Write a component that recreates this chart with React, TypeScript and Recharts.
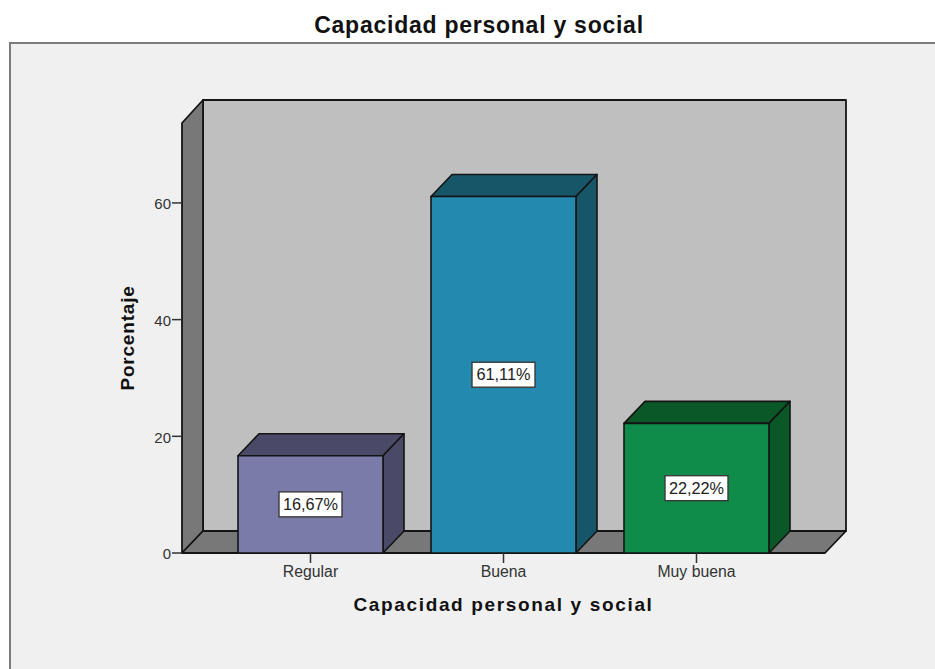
import { BarChart, Bar, XAxis, YAxis, LabelList, usePlotArea } from 'recharts';

const categories = ['Regular', 'Buena', 'Muy buena'];
const percentages = [16.67, 61.11, 22.22];
const yTicks = [0, 20, 40, 60];
const frontColors = ['#7b7ba9', '#2489ae', '#108c4a'];
const shadeColors = ['#4a4a68', '#175669', '#0a5727'];

const data = categories.map((name, i) => ({ name, value: percentages[i] }));

// oblique depth of the 3D box
const DX = 21;
const DY = 22;
const EDGE = '#141414';
const sans = '"Liberation Sans", Arial, sans-serif';

const formatPct = (v: number) => `${v.toFixed(2).replace('.', ',')}%`;

// Back wall, side wall and floor behind the bars
function Walls() {
  const plot = usePlotArea();
  if (!plot) return null;
  const { x, y, width, height } = plot;
  const b = y + height;
  const r = x + width;
  return (
    <g stroke={EDGE} strokeWidth={1.8} strokeLinejoin="round">
      <rect x={x + DX} y={y - DY - 1} width={width} height={height + 1} fill="#bfbfbf" />
      <path d={`M${x},${y} L${x + DX},${y - DY - 1} L${x + DX},${b - DY} L${x},${b} Z`} fill="#787878" />
      <path d={`M${x},${b} L${r},${b} L${r + DX},${b - DY} L${x + DX},${b - DY} Z`} fill="#787878" />
    </g>
  );
}

function Box3D(props: any) {
  const { x, y, width, height, index } = props;
  const front = frontColors[index];
  const shade = shadeColors[index];
  const r = x + width;
  const b = y + height;
  return (
    <g stroke={EDGE} strokeWidth={1.6} strokeLinejoin="round">
      <path d={`M${x},${y} L${x + DX},${y - DY} L${r + DX},${y - DY} L${r},${y} Z`} fill={shade} />
      <path d={`M${r},${y} L${r + DX},${y - DY} L${r + DX},${b - DY} L${r},${b} Z`} fill={shade} />
      <rect x={x} y={y} width={width} height={height} fill={front} />
    </g>
  );
}

function ValueBox(props: any) {
  const { x, y, width, height, value } = props;
  const cx = x + width / 2 + 0.5;
  const cy = y + height / 2;
  return (
    <g>
      <rect x={cx - 32} y={cy - 12.5} width={63} height={25} fill="#ffffff" stroke="#3a3a3a" strokeWidth={1.4} />
      <text x={cx - 0.5} y={cy + 5.5} textAnchor="middle" fontFamily={sans} fontSize={16.3} fill="#222222">
        {formatPct(value)}
      </text>
    </g>
  );
}

export default function App() {
  return (
    <div style={{ position: 'absolute', left: 0, top: 0, width: 935, height: 669, overflow: 'hidden', background: '#ffffff' }}>
      <div
        style={{
          position: 'absolute',
          left: 9,
          top: 41.5,
          width: 960,
          height: 660,
          background: '#f0f0f0',
          border: '2px solid #7c7c7c',
          boxSizing: 'border-box',
        }}
      />
      <div
        style={{
          position: 'absolute',
          left: 0,
          top: 12,
          width: 958,
          textAlign: 'center',
          fontFamily: sans,
          fontWeight: 700,
          fontSize: 23,
          letterSpacing: 0.75,
          color: '#111111',
        }}
      >
        Capacidad personal y social
      </div>
      <div style={{ position: 'absolute', left: 0, top: 0 }}>
        <BarChart
          width={935}
          height={669}
          data={data}
          margin={{ top: 123, right: 110, bottom: 76, left: 122 }}
          barSize={145}
        >
          <Walls />
          <XAxis
            dataKey="name"
            height={40}
            padding={{ left: 32, right: 32 }}
            axisLine={false}
            tickSize={10}
            tickMargin={3}
            tickLine={{ stroke: '#333333', strokeWidth: 1.5 }}
            tick={{ fontSize: 15.8, fontFamily: sans, fill: '#333333' }}
          />
          <YAxis
            width={60}
            domain={[0, 73.7]}
            ticks={yTicks}
            axisLine={false}
            tickSize={10}
            tickMargin={1}
            tickLine={{ stroke: '#333333', strokeWidth: 1.5 }}
            tick={{ fontSize: 15, fontFamily: sans, fill: '#333333', dy: 1 }}
            label={{
              value: 'Porcentaje',
              angle: -90,
              position: 'insideLeft',
              style: { fontFamily: sans, fontWeight: 700, fontSize: 19, letterSpacing: 0.8, fill: '#111111', textAnchor: 'middle' },
            }}
          />
          <Bar dataKey="value" isAnimationActive={false} shape={Box3D}>
            <LabelList dataKey="value" content={ValueBox} />
          </Bar>
        </BarChart>
      </div>
      <div
        style={{
          position: 'absolute',
          left: 182,
          width: 643,
          top: 594,
          textAlign: 'center',
          fontFamily: sans,
          fontWeight: 700,
          fontSize: 19,
          letterSpacing: 1.65,
          color: '#111111',
        }}
      >
        Capacidad personal y social
      </div>
    </div>
  );
}
